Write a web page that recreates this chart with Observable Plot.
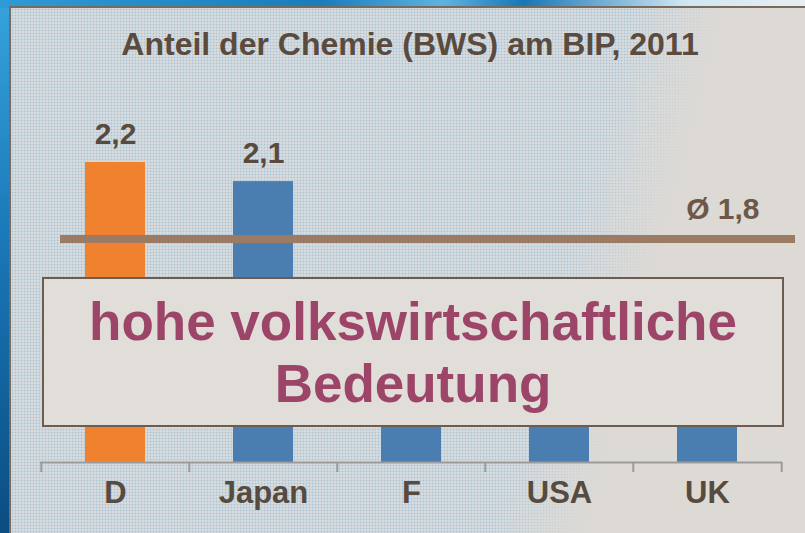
<!DOCTYPE html>
<html>
<head>
<meta charset="utf-8">
<script src="https://cdn.jsdelivr.net/npm/d3@7"></script>
<script src="https://cdn.jsdelivr.net/npm/@observablehq/plot@0.6"></script>
<style>
  html, body { margin: 0; padding: 0; }
  body {
    width: 805px; height: 533px; overflow: hidden;
    background: linear-gradient(180deg, #36a3dc 0%, #1a78b8 45%, #0a4d82 100%);
    font-family: "Liberation Sans", Arial, sans-serif;
  }
  #top {
    position: absolute; left: 0; top: 0; width: 805px; height: 8px;
    background: linear-gradient(90deg, #2f9ad6 0%, #1a7cbc 40%, #5fb3e0 55%, #1776b6 65%, #cfe6f2 85%, #e8eef2 100%);
  }
  #panel {
    position: absolute; left: 9px; top: 6px; width: 800px; height: 530px;
    border-top: 2px solid #7a6a5c; border-left: 2px solid #7a6a5c;
    background: #dddad5;
    overflow: hidden;
  }
  #dots {
    position: absolute; inset: 0;
    background-color: #d6dadc;
    background-image: radial-gradient(circle, rgba(120,175,210,0.55) 0.7px, transparent 1.1px);
    background-size: 3px 3px;
    -webkit-mask-image: linear-gradient(105deg, #000 0%, #000 66%, transparent 76%);
    mask-image: linear-gradient(105deg, #000 0%, #000 66%, transparent 76%);
  }
  #chart { position: absolute; left: 0; top: 0; }
  #title {
    position: absolute; left: 10px; top: 29px; width: 800px;
    text-align: center; font-size: 32px; line-height: 31px; font-weight: bold;
    color: #5a4b3e; white-space: nowrap;
  }
  #box {
    position: absolute; left: 42px; top: 277px; width: 738px; height: 146px;
    background: #e1ddd8; border: 2px solid #6d5d50;
    text-align: center; font-size: 53px; line-height: 62px; font-weight: bold;
    color: #9c4568; padding-top: 0px; box-sizing: content-box;
  }
  #box div { white-space: nowrap; }
</style>
</head>
<body>
<div id="top"></div>
<div id="panel"><div id="dots"></div></div>
<div id="chart"></div>
<div id="title"></div>
<div id="box"></div>
<script>
const categories = ["D", "Japan", "F", "USA", "UK"];
const values = [2.2, 2.1, 1.4, 1.5, 1.2];
const barColors = ["#f0822f", "#4a7eb1", "#4a7eb1", "#4a7eb1", "#4a7eb1"];
const valueLabels = ["2,2", "2,1", "", "", ""];
const average = 1.8;
const averageLabel = "Ø 1,8";
const titleText = "Anteil der Chemie (BWS) am BIP, 2011";
const boxLines = ["hohe volkswirtschaftliche", "Bedeutung"];
const yDomain = [0.63, 2.2];

const data = categories.map((c, i) => ({category: c, value: values[i], color: barColors[i], label: valueLabels[i]}));

const W = 805, H = 533, mL = 40, mR = 23;
const step = (W - mL - mR) / categories.length;
const font = "'Liberation Sans', Arial, sans-serif";
const textColor = "#574a3e";

const chart = Plot.plot({
  width: W, height: H,
  marginLeft: mL, marginRight: mR, marginTop: 162, marginBottom: 71,
  style: {background: "transparent", fontFamily: font, overflow: "visible"},
  x: {domain: categories, paddingInner: 0.596, paddingOuter: 0.298, axis: null},
  y: {domain: yDomain, axis: null},
  color: {type: "identity"},
  marks: [
    Plot.barY(data, {x: "category", y1: yDomain[0], y2: "value", fill: "color"}),
    Plot.ruleY([yDomain[0]], {stroke: "#9b9b9b", strokeWidth: 2}),
    Plot.axisX(categories, {tickSize: 10, text: null, label: null, dx: -step / 2, stroke: "#9b9b9b", strokeWidth: 2, strokeOpacity: 1}),
    Plot.axisX(categories.slice(-1), {tickSize: 10, text: null, label: null, dx: step / 2, stroke: "#9b9b9b", strokeWidth: 2, strokeOpacity: 1}),
    Plot.text(categories, {x: d => d, frameAnchor: "bottom", dy: 40, text: d => d, fontSize: 31, fontWeight: "bold", fill: textColor}),
    Plot.ruleY([average], {stroke: "#9b7b63", strokeWidth: 8, insetLeft: 20, insetRight: -13}),
    Plot.text(data.filter(d => d.label), {x: "category", y: "value", text: "label", dy: -28.6, fontSize: 30, fontWeight: "bold", fill: textColor}),
    Plot.text([average], {y: d => d, frameAnchor: "right", textAnchor: "end", dx: -23, dy: -30, text: () => averageLabel, fontSize: 30, fontWeight: "bold", fill: "#6d5848"})
  ]
});
document.getElementById("chart").append(chart);
document.getElementById("title").textContent = titleText;
const box = document.getElementById("box");
box.style.paddingTop = "12px";
box.style.height = "134px";
boxLines.forEach(t => { const d = document.createElement("div"); d.textContent = t; box.append(d); });
</script>
</body>
</html>
